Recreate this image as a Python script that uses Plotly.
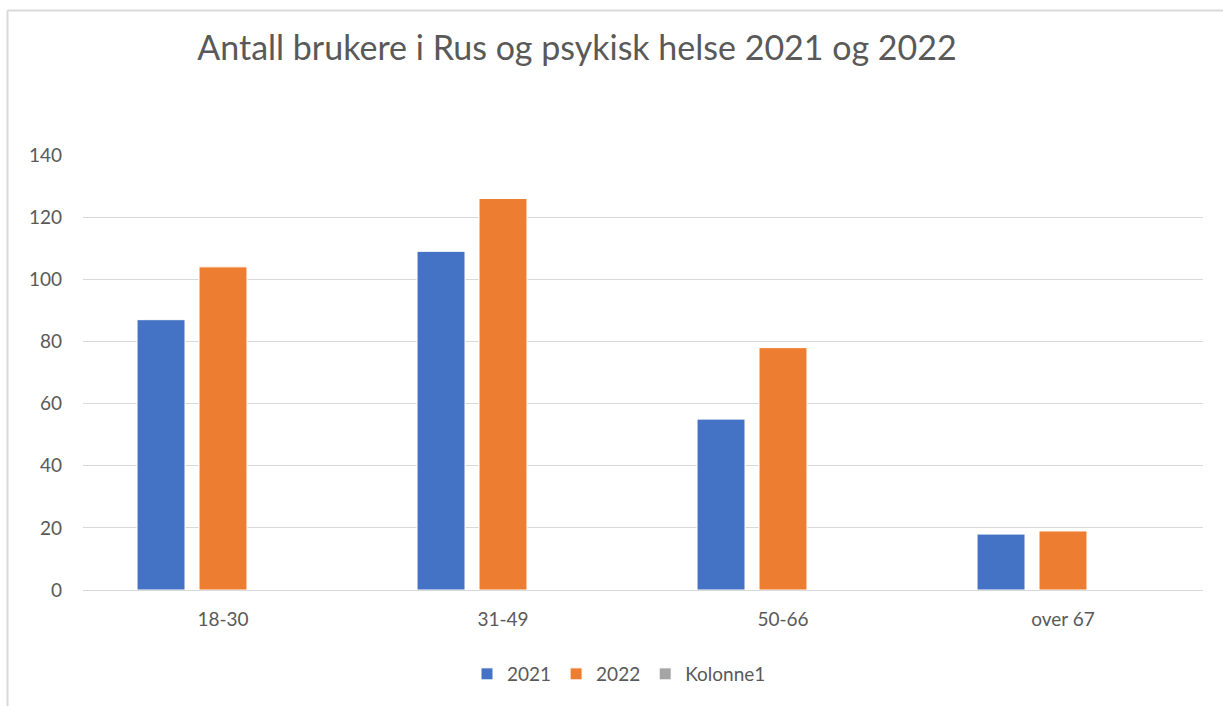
import plotly.graph_objects as go

# data
age_groups = ["18-30", "31-49", "50-66", "over 67"]
users_2021 = [87, 109, 55, 18]
users_2022 = [104, 126, 78, 19]
kolonne1 = [None, None, None, None]  # empty column in the source sheet

font = "Lato"
txt = "#595959"
grid = "#D9D9D9"

fig = go.Figure()
fig.add_trace(go.Bar(x=age_groups, y=users_2021, name="2021",
                     marker=dict(color="#4472C4", line=dict(color="white", width=1))))
fig.add_trace(go.Bar(x=age_groups, y=users_2022, name="2022",
                     marker=dict(color="#ED7D31", line=dict(color="white", width=1))))
fig.add_trace(go.Bar(x=age_groups, y=kolonne1, name="Kolonne1",
                     marker=dict(color="#A5A5A5", line=dict(color="white", width=1))))

# plot area: x 83..1203 px, y 155..590 px
L, R, T, B = 83, 20, 155, 116
pw, ph = 1223 - L - R, 706 - T - B

def px(x):
    return (x - L) / pw

def py(y):
    return (706 - B - y) / ph

# light chart border (left + top only visible)
fig.add_shape(type="line", xref="paper", yref="paper",
              x0=px(7.5), x1=px(1240), y0=py(10.5), y1=py(10.5),
              line=dict(color=grid, width=2))
fig.add_shape(type="line", xref="paper", yref="paper",
              x0=px(7.5), x1=px(7.5), y0=py(720), y1=py(10.5),
              line=dict(color=grid, width=2))

fig.update_layout(
    width=1223, height=706,
    margin=dict(l=L, r=R, t=T, b=B),
    paper_bgcolor="white", plot_bgcolor="white",
    font=dict(family=font, color=txt, size=19),
    title=dict(text="Antall brukere i Rus og psykisk helse 2021 og 2022",
               x=577 / 1223, xanchor="center", xref="container",
               y=1 - 48 / 706, yanchor="middle", yref="container",
               font=dict(family=font, size=34, color=txt)),
    barmode="group", bargap=0.336, bargroupgap=0.226,
    showlegend=True,
    legend=dict(orientation="h", x=px(619), xanchor="center",
                y=py(674), yanchor="middle",
                font=dict(size=19, color=txt), itemwidth=30,
                traceorder="normal"),
    xaxis=dict(showgrid=False, showline=True, linecolor=grid, linewidth=1,
               ticks="", ticklabelstandoff=12),
    yaxis=dict(range=[0, 140], dtick=20, showgrid=True, gridcolor=grid,
               gridwidth=1, zeroline=False, showline=False,
               ticks="", ticklabelstandoff=20),
)

# drop the default body margin so the figure sits at the window's corner
fig.write_html("out.html", config={"displayModeBar": False},
               post_script="document.body.style.margin='0';")
